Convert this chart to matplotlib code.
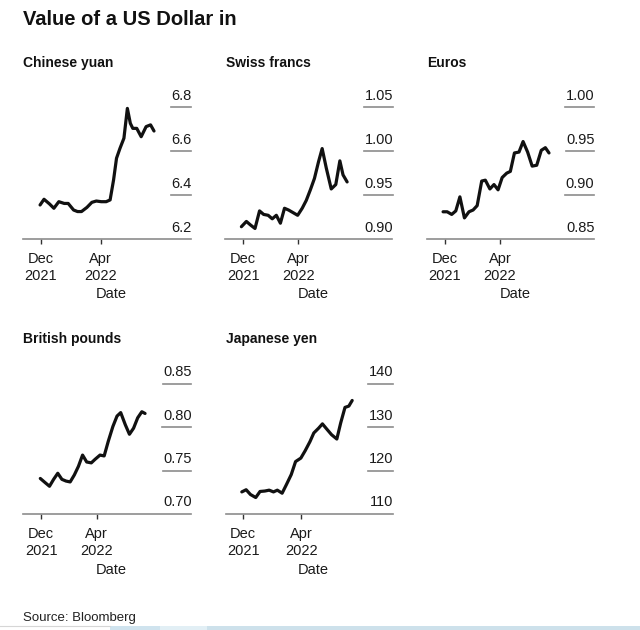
import matplotlib
matplotlib.use('Agg')
import matplotlib.pyplot as plt
import matplotlib.dates as mdates
from matplotlib.lines import Line2D
from matplotlib.patches import Rectangle
import pandas as pd

plt.rcParams['font.family'] = ['Liberation Sans', 'DejaVu Sans']

# --- data ---
yuan_dates = ["2021-11-29", "2021-12-07", "2021-12-18", "2021-12-27", "2022-01-06", "2022-01-17",
              "2022-01-25", "2022-02-05", "2022-02-13", "2022-02-21", "2022-03-04", "2022-03-14",
              "2022-03-23", "2022-04-02", "2022-04-12", "2022-04-20", "2022-04-27", "2022-05-03",
              "2022-05-10", "2022-05-18", "2022-05-25", "2022-05-31", "2022-06-05", "2022-06-13",
              "2022-06-22", "2022-07-02", "2022-07-11", "2022-07-18"]
yuan_values = [6.355, 6.381, 6.360, 6.340, 6.370, 6.362, 6.362, 6.332, 6.325, 6.325, 6.344, 6.367,
               6.373, 6.370, 6.370, 6.378, 6.469, 6.568, 6.613, 6.659, 6.795, 6.727, 6.704, 6.704,
               6.666, 6.712, 6.720, 6.692]

franc_dates = ["2021-11-27", "2021-12-08", "2021-12-17", "2021-12-27", "2022-01-06", "2022-01-15",
               "2022-01-25", "2022-02-03", "2022-02-12", "2022-02-21", "2022-03-02", "2022-03-11",
               "2022-03-21", "2022-03-31", "2022-04-10", "2022-04-19", "2022-04-28", "2022-05-07",
               "2022-05-16", "2022-05-24", "2022-06-02", "2022-06-13", "2022-06-23", "2022-07-02",
               "2022-07-09", "2022-07-18"]
franc_values = [0.914, 0.920, 0.916, 0.912, 0.932, 0.928, 0.927, 0.923, 0.927, 0.918, 0.935, 0.933,
                0.930, 0.927, 0.935, 0.944, 0.956, 0.969, 0.988, 1.003, 0.981, 0.957, 0.962, 0.989,
                0.973, 0.965]

euro_dates = ["2021-11-27", "2021-12-06", "2021-12-16", "2021-12-25", "2022-01-03", "2022-01-13",
              "2022-01-23", "2022-02-01", "2022-02-10", "2022-02-20", "2022-02-28", "2022-03-10",
              "2022-03-19", "2022-03-28", "2022-04-06", "2022-04-16", "2022-04-24", "2022-05-03",
              "2022-05-13", "2022-05-22", "2022-06-01", "2022-06-11", "2022-06-21", "2022-07-01",
              "2022-07-10", "2022-07-18"]
euro_values = [0.881, 0.881, 0.878, 0.882, 0.898, 0.874, 0.881, 0.883, 0.888, 0.916, 0.917, 0.907,
               0.912, 0.906, 0.920, 0.925, 0.927, 0.948, 0.949, 0.961, 0.949, 0.933, 0.934, 0.951,
               0.954, 0.948]

pound_dates = ["2021-11-29", "2021-12-10", "2021-12-19", "2021-12-28", "2022-01-06", "2022-01-15",
               "2022-01-24", "2022-02-02", "2022-02-11", "2022-02-20", "2022-03-01", "2022-03-10",
               "2022-03-20", "2022-03-28", "2022-04-08", "2022-04-17", "2022-04-26", "2022-05-06",
               "2022-05-15", "2022-05-23", "2022-06-02", "2022-06-11", "2022-06-20", "2022-06-29",
               "2022-07-08", "2022-07-15"]
pound_values = [0.741, 0.736, 0.732, 0.740, 0.747, 0.740, 0.738, 0.737, 0.745, 0.755, 0.768, 0.760,
                0.759, 0.763, 0.768, 0.767, 0.784, 0.801, 0.813, 0.817, 0.803, 0.792, 0.799, 0.811,
                0.818, 0.816]

yen_dates = ["2021-11-28", "2021-12-07", "2021-12-16", "2021-12-27", "2022-01-05", "2022-01-15",
             "2022-01-24", "2022-02-02", "2022-02-10", "2022-02-20", "2022-03-01", "2022-03-11",
             "2022-03-20", "2022-03-31", "2022-04-09", "2022-04-19", "2022-04-27", "2022-05-07",
             "2022-05-15", "2022-05-24", "2022-06-03", "2022-06-14", "2022-06-22", "2022-07-01",
             "2022-07-09", "2022-07-16"]
yen_values = [115.1, 115.6, 114.5, 113.8, 115.2, 115.3, 115.5, 115.1, 115.5, 114.8, 116.8, 119.1,
              122.1, 122.9, 124.6, 126.7, 128.7, 129.8, 130.8, 129.6, 128.3, 127.3, 131.0, 134.6,
              134.9, 136.2]

titles = ["Chinese yuan", "Swiss francs", "Euros", "British pounds", "Japanese yen"]
ytick_values = [[6.2, 6.4, 6.6, 6.8], [0.90, 0.95, 1.00, 1.05], [0.85, 0.90, 0.95, 1.00],
                [0.70, 0.75, 0.80, 0.85], [110, 120, 130, 140]]
ytick_labels = [["6.2", "6.4", "6.6", "6.8"], ["0.90", "0.95", "1.00", "1.05"],
                ["0.85", "0.90", "0.95", "1.00"], ["0.70", "0.75", "0.80", "0.85"],
                ["110", "120", "130", "140"]]
xtick_dates = ["2021-12-01", "2022-04-01"]
xtick_labels = ["Dec\n2021", "Apr\n2022"]

series = [(yuan_dates, yuan_values), (franc_dates, franc_values), (euro_dates, euro_values),
          (pound_dates, pound_values), (yen_dates, yen_values)]

# --- layout in pixels (left, right, baseline, top) and x limits per panel ---
W, H = 640, 630
boxes = [(23.3, 191, 239, 107.3), (225.5, 392.5, 239, 107.3), (426.7, 594, 239, 107.3),
         (23.3, 191, 514, 384), (225.5, 392.5, 514, 384)]
xlims = [("2021-10-26", "2022-10-01"), ("2021-10-23", "2022-10-26"), ("2021-10-22", "2022-10-25"),
         ("2021-10-23", "2022-10-23"), ("2021-10-25", "2022-10-08")]

grey = '#8c8c8c'
ink = '#1a1a1a'

fig = plt.figure(figsize=(W / 100, H / 100), dpi=100)

fig.text(23 / W, 1 - 25 / H, "Value of a US Dollar in", fontsize=14.5, fontweight='bold',
         color='#111111', ha='left', va='baseline')

axes = []
for i in range(5):
    L, R, base, top = boxes[i]
    ax = fig.add_axes([L / W, 1 - base / H, (R - L) / W, (base - top) / H])
    axes.append(ax)
    dates = pd.to_datetime(series[i][0])
    ax.plot(dates, series[i][1], color='#111111', linewidth=2.3, solid_joinstyle='round',
            solid_capstyle='round', clip_on=False)
    ax.set_xlim(pd.Timestamp(xlims[i][0]), pd.Timestamp(xlims[i][1]))
    ax.set_ylim(ytick_values[i][0], ytick_values[i][-1])
    for s in ['top', 'left', 'right']:
        ax.spines[s].set_visible(False)
    ax.spines['bottom'].set_color(grey)
    ax.spines['bottom'].set_linewidth(1.2)
    ax.set_yticks([])
    ax.set_xticks(pd.to_datetime(xtick_dates))
    ax.set_xticklabels([])
    ax.tick_params(axis='x', length=3.8, width=1.0, color='#333333', direction='out')

    # x tick labels, two lines each
    for d, lab in zip(xtick_dates, xtick_labels):
        top_line, bottom_line = lab.split("\n")
        x = mdates.date2num(pd.Timestamp(d))
        ax.annotate(top_line, (x, 0), xycoords=('data', 'axes fraction'),
                    xytext=(0, -24.3), textcoords='offset pixels', ha='center', va='baseline',
                    fontsize=10.5, color=ink, annotation_clip=False)
        ax.annotate(bottom_line, (x, 0), xycoords=('data', 'axes fraction'),
                    xytext=(0, -41), textcoords='offset pixels', ha='center', va='baseline',
                    fontsize=10.5, color=ink, annotation_clip=False)
    ax.annotate("Date", (0.5, 0), xycoords='axes fraction', xytext=(4.5, -59.5),
                textcoords='offset pixels', ha='center', va='baseline', fontsize=10.5,
                color=ink, annotation_clip=False)

    # panel title
    fig.text(L / W, 1 - (top - 40.5) / H, titles[i], fontsize=10, fontweight='bold',
             color='#111111', ha='left', va='baseline')

    # y labels on the right, each sitting above a short grey rule
    ax.ylabels = []
    for v, lab in zip(ytick_values[i], ytick_labels[i]):
        t = ax.annotate(lab, (1.0, v), xycoords=('axes fraction', 'data'),
                        xytext=(0.5, 7.5), textcoords='offset pixels', ha='right',
                        va='baseline', fontsize=10.5, color=ink, annotation_clip=False)
        ax.ylabels.append((v, t))

fig.canvas.draw()
renderer = fig.canvas.get_renderer()
for ax in axes:
    bb = ax.get_window_extent(renderer)
    for v, t in ax.ylabels[1:]:
        tb = t.get_window_extent(renderer)
        x0 = (tb.x0 - 0.5 - bb.x0) / bb.width
        ax.add_line(Line2D([x0, 1.0], [v, v], color=grey, linewidth=1.2,
                           transform=ax.get_yaxis_transform(), clip_on=False))

fig.text(23 / W, 1 - 621 / H, "Source: Bloomberg", fontsize=9.5, color='#222222',
         ha='left', va='baseline')

# browser strip along the bottom edge
fig.add_artist(Line2D([0, 110 / W], [1 - 626 / H, 1 - 626 / H], color='#d6d6d6',
                      linewidth=0.8, transform=fig.transFigure))
fig.patches.append(Rectangle((110 / W, 0), 50 / W, 4 / H, transform=fig.transFigure,
                             facecolor='#cfe3ee', edgecolor='none'))
fig.patches.append(Rectangle((160 / W, 0), 47 / W, 4 / H, transform=fig.transFigure,
                             facecolor='#e2eff5', edgecolor='none'))
fig.patches.append(Rectangle((207 / W, 0), 433 / W, 4 / H, transform=fig.transFigure,
                             facecolor='#cde1eb', edgecolor='none'))

fig.savefig('out.png', dpi=100)
